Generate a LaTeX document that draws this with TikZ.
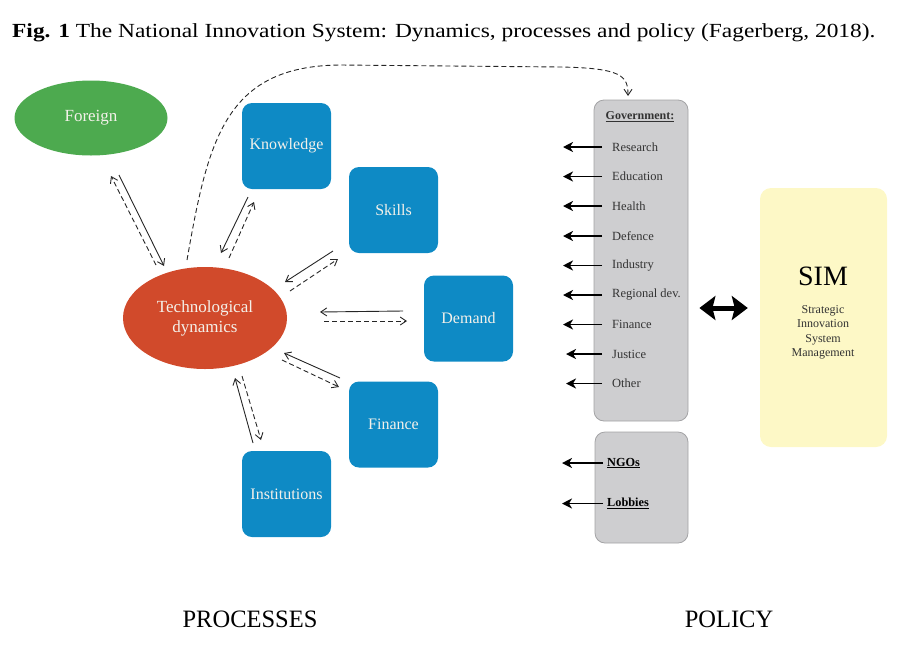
\documentclass[tikz,border=0pt]{standalone}
\usepackage{fontspec}
\setmainfont{Liberation Serif}
\usetikzlibrary{arrows.meta,shapes.geometric}
\definecolor{fgreen}{HTML}{4DAA4F}
\definecolor{pblue}{HTML}{0E8AC5}
\definecolor{tred}{HTML}{D14A2B}
\definecolor{ggray}{HTML}{CECED0}
\definecolor{gedge}{HTML}{A3A3A5}
\definecolor{syel}{HTML}{FDF8C6}
\definecolor{gtext}{HTML}{333333}
\definecolor{wtext}{HTML}{F4F1EA}
\tikzset{
  bluebox/.style={rectangle, rounded corners=10pt, fill=pblue, draw=none,
    minimum width=89pt, minimum height=86pt, text=wtext, font=\fontsize{16}{18}\selectfont},
  ovalnode/.style={ellipse, draw=none, text=wtext, align=center, inner sep=0pt},
  solidarr/.style={-{Straight Barb[length=6pt,width=8pt]}, line width=0.9pt, black!85},
  dasharr/.style={-{Straight Barb[length=6pt,width=8pt]}, line width=0.9pt, black!85, dash pattern=on 5pt off 3pt},
  govitem/.style={anchor=west, text=gtext, inner sep=0pt, font=\fontsize{12.5}{14}\selectfont},
  govbold/.style={anchor=west, text=black, inner sep=0pt, font=\fontsize{12.3}{14}\selectfont\bfseries},
  govarr/.style={-{Stealth[length=10pt,width=10pt,inset=3pt]}, line width=1.8pt, black},
  panel/.style={rectangle, rounded corners=10pt, fill=ggray, draw=gedge, line width=0.8pt},
}
\begin{document}
\begin{tikzpicture}[x=1pt,y=-1pt]
\useasboundingbox (0,0) rectangle (904,654);
% title
\node[anchor=base west, inner sep=0pt, font=\fontsize{20}{22}\selectfont] (title) at (12,37)
  {\scalebox{1.17}[1]{\textbf{Fig. 1} The National Innovation System: Dynamics, processes and policy (Fagerberg, 2018).}};
% processes side
\node[ovalnode, fill=fgreen, minimum width=153pt, minimum height=75pt, font=\fontsize{17}{19}\selectfont] (foreign) at (91,118) {Foreign};
\node[ovalnode, fill=tred, minimum width=164pt, minimum height=102pt, font=\fontsize{17}{20}\selectfont] (tech) at (205,318) {Technological\\dynamics};
\node[bluebox] (know) at (286.5,146) {Knowledge};
\node[bluebox] (skills) at (393.5,210) {Skills};
\node[bluebox] (demand) at (468.5,318.5) {Demand};
\node[bluebox] (finance) at (393.5,424.5) {Finance};
\node[bluebox] (inst) at (286.5,494) {Institutions};
% arrow endpoints
\coordinate (fa) at (119,175); \coordinate (fb) at (164,266);
\coordinate (fc) at (156,265); \coordinate (fd) at (111,176);
\coordinate (ka) at (248,197); \coordinate (kb) at (221,253);
\coordinate (kc) at (229,258); \coordinate (kd) at (254,202);
\coordinate (sa) at (333,251); \coordinate (sb) at (285,282);
\coordinate (sc) at (290,291); \coordinate (sd) at (338,259);
\coordinate (da) at (403,311); \coordinate (db) at (320,312);
\coordinate (dc) at (324,321); \coordinate (dd) at (407,321);
\coordinate (na) at (340,378); \coordinate (nb) at (284,353);
\coordinate (nc) at (282,360); \coordinate (nd) at (339,387);
\coordinate (ia) at (253,443); \coordinate (ib) at (235,378);
\coordinate (ic) at (242,376); \coordinate (id) at (261,440);
\draw[solidarr] (fa) -- (fb); \draw[dasharr] (fc) -- (fd);
\draw[solidarr] (ka) -- (kb); \draw[dasharr] (kc) -- (kd);
\draw[solidarr] (sa) -- (sb); \draw[dasharr] (sc) -- (sd);
\draw[solidarr] (da) -- (db); \draw[dasharr] (dc) -- (dd);
\draw[solidarr] (na) -- (nb); \draw[dasharr] (nc) -- (nd);
\draw[solidarr] (ia) -- (ib); \draw[dasharr] (ic) -- (id);
% policy side
\node[panel, minimum width=94pt, minimum height=321pt] (gov) at (641,260.5) {};
\node[panel, minimum width=93pt, minimum height=111pt] (ngo) at (641.5,487.5) {};
\node[inner sep=0pt, text=gtext, font=\fontsize{12}{14}\selectfont\bfseries] (govt) at (640,117) {\underline{Government:}};
\node[govitem] (i1) at (612,147) {Research};
\node[govitem] (i2) at (612,176.5) {Education};
\node[govitem] (i3) at (612,206) {Health};
\node[govitem] (i4) at (612,236) {Defence};
\node[govitem] (i5) at (612,265.5) {Industry};
\node[govitem] (i6) at (612,295) {Regional dev.};
\node[govitem] (i7) at (612,324.5) {Finance};
\node[govitem] (i8) at (612,354) {Justice};
\node[govitem] (i9) at (612,383.5) {Other};
\node[govbold] (ngos) at (607,463) {\underline{NGOs}};
\node[govbold] (lobb) at (607,503.5) {\underline{Lobbies}};
\foreach \n in {i1,i2,i3,i4,i5,i6,i7} {\draw[govarr] ([xshift=-10pt]\n.west) -- ++(-39,0);}
\foreach \n in {i8,i9} {\draw[govarr] ([xshift=-10pt]\n.west) -- ++(-36,0);}
\foreach \n in {ngos,lobb} {\draw[govarr] ([xshift=-4pt]\n.west) -- ++(-41,0);}
% dashed curve to government
\coordinate (cstart) at (187,260);
\coordinate (cend) at (628,96);
\draw[dasharr] (cstart) .. controls (208,140) and (225,66) .. (340,65) -- (560,67) .. controls (622,68) and (628,76) .. (cend);
% SIM
\node[rectangle, rounded corners=11pt, fill=syel, draw=none, minimum width=127pt, minimum height=259pt] (sim) at (823.5,317.5) {};
\node[inner sep=0pt, font=\fontsize{28}{30}\selectfont] (simt) at (823,276) {SIM};
\node[inner sep=0pt, align=center, text=gtext, font=\fontsize{12}{14.5}\selectfont] (simd) at (823,332.5) {Strategic\\Innovation\\System\\Management};
\draw[{Stealth[length=16pt,width=24pt,inset=3pt]}-{Stealth[length=16pt,width=24pt,inset=3pt]}, line width=5pt]
  ([xshift=11pt,yshift=-47.5pt]gov.east) -- ([xshift=-12pt,yshift=9.5pt]sim.west);
% labels
\node[anchor=base, inner sep=0pt, font=\fontsize{25}{28}\selectfont] (proc) at (250,627) {\scalebox{0.98}[1]{PROCESSES}};
\node[anchor=base, inner sep=0pt, font=\fontsize{25}{28}\selectfont] (pol) at (729,627) {\scalebox{0.98}[1]{POLICY}};
\end{tikzpicture}
\end{document}
